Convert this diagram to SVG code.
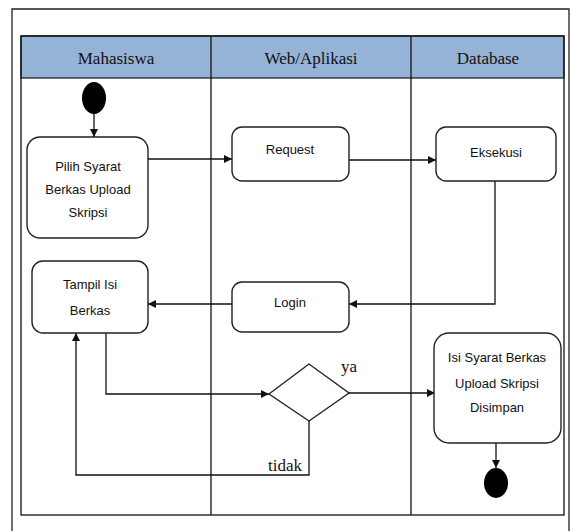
<svg xmlns="http://www.w3.org/2000/svg" width="571" height="531" viewBox="0 0 571 531">
<style>
.frame{fill:none;stroke:#222;stroke-width:1.3}
.hdr{fill:#95B3D7;stroke:#222;stroke-width:1.3}
.lane{fill:none;stroke:#111;stroke-width:1.3}
.node{fill:#fff;stroke:#222;stroke-width:1.4}
.nt{font-family:"Liberation Sans",Arial,sans-serif;font-size:13px;fill:#111;text-anchor:middle}
.ht{font-family:"Liberation Serif","Times New Roman",serif;font-size:17px;fill:#111;text-anchor:middle}
.lt{font-family:"Liberation Serif","Times New Roman",serif;font-size:17px;fill:#111}
.edge{fill:none;stroke:#111;stroke-width:1.3}
</style>
<defs>
<marker id="arr" viewBox="0 0 10 10" refX="10" refY="5" markerWidth="8" markerHeight="8" markerUnits="userSpaceOnUse" orient="auto">
<path d="M0,0 L10,5 L0,10 z" fill="#111"/>
</marker>
</defs>
<rect width="571" height="531" fill="#fff"/>
<path class="frame" d="M12,531 V9 H569 V531"/>
<g id="lanes">
<rect class="hdr" x="21" y="36" width="543" height="42"/>
<rect class="lane" x="21" y="36" width="543" height="479"/>
<line class="lane" x1="211" y1="36" x2="211" y2="515"/>
<line class="lane" x1="411" y1="36" x2="411" y2="515"/>
<text class="ht" x="116" y="64">Mahasiswa</text>
<text class="ht" x="311" y="64">Web/Aplikasi</text>
<text class="ht" x="488" y="64">Database</text>
</g>
<g id="connectors">
<line class="edge" x1="94" y1="114" x2="94" y2="137" marker-end="url(#arr)"/>
<line class="edge" x1="148" y1="159" x2="232" y2="159" marker-end="url(#arr)"/>
<line class="edge" x1="349" y1="160" x2="436" y2="160" marker-end="url(#arr)"/>
<path class="edge" d="M495,181 V304 H349" marker-end="url(#arr)"/>
<line class="edge" x1="232" y1="304" x2="148" y2="304" marker-end="url(#arr)"/>
<path class="edge" d="M106,333 V394 H269" marker-end="url(#arr)"/>
<line class="edge" x1="349" y1="393" x2="435" y2="393" marker-end="url(#arr)"/>
<path class="edge" d="M309,421 V475 H76 V333" marker-end="url(#arr)"/>
<line class="edge" x1="496" y1="443" x2="496" y2="468" marker-end="url(#arr)"/>
<text class="lt" x="341" y="372">ya</text>
<text class="lt" x="268" y="471">tidak</text>
</g>
<g id="start"><ellipse cx="94" cy="98" rx="12" ry="16" fill="#000"/></g>
<g id="pilih">
<rect class="node" x="27" y="137" width="121" height="101" rx="13"/>
<text class="nt" x="88" y="171">Pilih  Syarat</text>
<text class="nt" x="88" y="194">Berkas Upload</text>
<text class="nt" x="88" y="217">Skripsi</text>
</g>
<g id="request">
<rect class="node" x="232" y="127" width="117" height="54" rx="10"/>
<text class="nt" x="290" y="154">Request</text>
</g>
<g id="eksekusi">
<rect class="node" x="436" y="127" width="120" height="54" rx="10"/>
<text class="nt" x="496" y="157">Eksekusi</text>
</g>
<g id="login">
<rect class="node" x="232" y="282" width="117" height="50" rx="10"/>
<text class="nt" x="290" y="307">Login</text>
</g>
<g id="tampil">
<rect class="node" x="32" y="261" width="116" height="72" rx="11"/>
<text class="nt" x="90" y="289">Tampil Isi</text>
<text class="nt" x="90" y="315">Berkas</text>
</g>
<g id="decision">
<polygon class="node" points="269,394 309,364 349,393 309,421"/>
</g>
<g id="isi">
<rect class="node" x="434" y="333" width="127" height="110" rx="15"/>
<text class="nt" x="497" y="362">Isi Syarat Berkas</text>
<text class="nt" x="497" y="388">Upload Skripsi</text>
<text class="nt" x="497" y="412">Disimpan</text>
</g>
<g id="end"><ellipse cx="496" cy="483" rx="12" ry="15" fill="#000"/></g>
</svg>
